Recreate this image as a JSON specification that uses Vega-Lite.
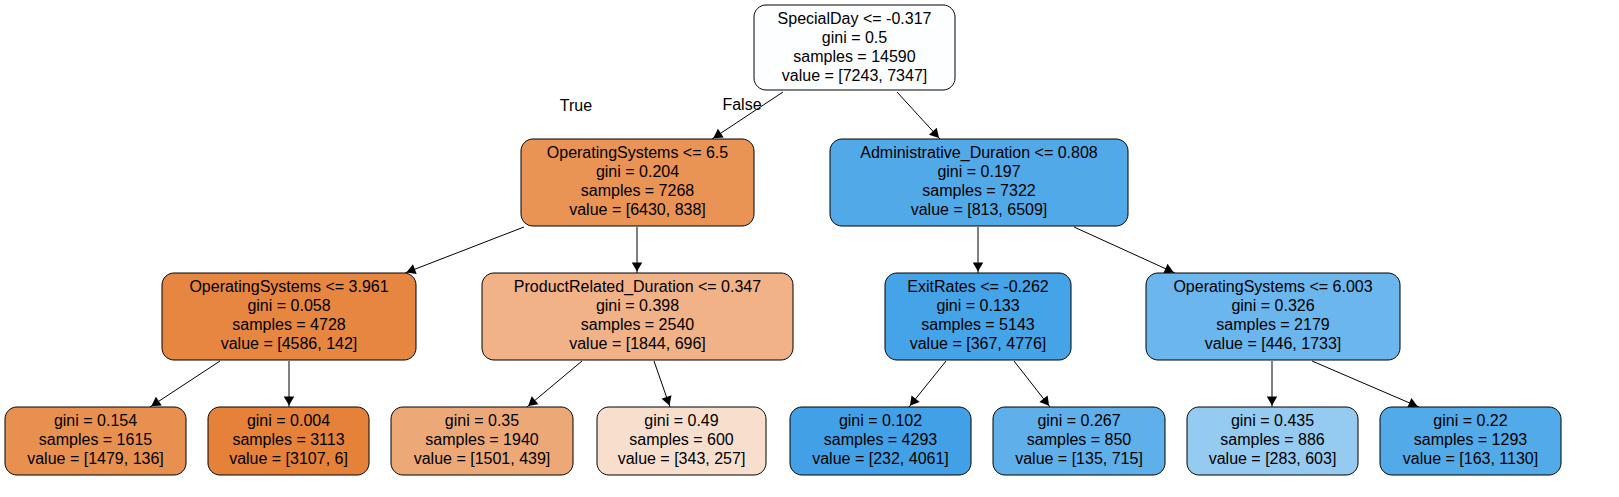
{
  "$schema": "https://vega.github.io/schema/vega-lite/v6.json",
  "autosize": {"type": "none"},
  "width": 1619,
  "height": 497,
  "padding": 0,
  "background": "white",
  "config": {"view": {"stroke": null}},
  "datasets": {
    "nodes": [
      {"x0": 754, "x1": 955, "y0": 5, "y1": 90, "fill": "#fdfeff", "label": "SpecialDay <= -0.317\ngini = 0.5\nsamples = 14590\nvalue = [7243, 7347]"},
      {"x0": 521, "x1": 754, "y0": 139, "y1": 226, "fill": "#e99355", "label": "OperatingSystems <= 6.5\ngini = 0.204\nsamples = 7268\nvalue = [6430, 838]"},
      {"x0": 830, "x1": 1128, "y0": 139, "y1": 226, "fill": "#52a9e8", "label": "Administrative_Duration <= 0.808\ngini = 0.197\nsamples = 7322\nvalue = [813, 6509]"},
      {"x0": 162, "x1": 416, "y0": 273, "y1": 360, "fill": "#e68641", "label": "OperatingSystems <= 3.961\ngini = 0.058\nsamples = 4728\nvalue = [4586, 142]"},
      {"x0": 482, "x1": 793, "y0": 273, "y1": 360, "fill": "#f0b286", "label": "ProductRelated_Duration <= 0.347\ngini = 0.398\nsamples = 2540\nvalue = [1844, 696]"},
      {"x0": 885, "x1": 1071, "y0": 273, "y1": 360, "fill": "#45a3e7", "label": "ExitRates <= -0.262\ngini = 0.133\nsamples = 5143\nvalue = [367, 4776]"},
      {"x0": 1146, "x1": 1400, "y0": 273, "y1": 360, "fill": "#6bb6ec", "label": "OperatingSystems <= 6.003\ngini = 0.326\nsamples = 2179\nvalue = [446, 1733]"},
      {"x0": 5, "x1": 186, "y0": 407, "y1": 475, "fill": "#e89050", "label": "gini = 0.154\nsamples = 1615\nvalue = [1479, 136]"},
      {"x0": 208, "x1": 369, "y0": 407, "y1": 475, "fill": "#e58139", "label": "gini = 0.004\nsamples = 3113\nvalue = [3107, 6]"},
      {"x0": 391, "x1": 573, "y0": 407, "y1": 475, "fill": "#eda877", "label": "gini = 0.35\nsamples = 1940\nvalue = [1501, 439]"},
      {"x0": 597, "x1": 766, "y0": 407, "y1": 475, "fill": "#f8dfcd", "label": "gini = 0.49\nsamples = 600\nvalue = [343, 257]"},
      {"x0": 790, "x1": 971, "y0": 407, "y1": 475, "fill": "#42a1e6", "label": "gini = 0.102\nsamples = 4293\nvalue = [232, 4061]"},
      {"x0": 993, "x1": 1165, "y0": 407, "y1": 475, "fill": "#5eafea", "label": "gini = 0.267\nsamples = 850\nvalue = [135, 715]"},
      {"x0": 1187, "x1": 1358, "y0": 407, "y1": 475, "fill": "#95caf1", "label": "gini = 0.435\nsamples = 886\nvalue = [283, 603]"},
      {"x0": 1380, "x1": 1561, "y0": 407, "y1": 475, "fill": "#52aae8", "label": "gini = 0.22\nsamples = 1293\nvalue = [163, 1130]"}
    ],
    "edges": [
      {"xa": 783, "ya": 92, "xb": 712, "yb": 139},
      {"xa": 897, "ya": 92, "xb": 940, "yb": 139},
      {"xa": 524, "ya": 227, "xb": 405, "yb": 273},
      {"xa": 637, "ya": 227, "xb": 637, "yb": 273},
      {"xa": 978, "ya": 227, "xb": 978, "yb": 273},
      {"xa": 1074, "ya": 227, "xb": 1175, "yb": 273},
      {"xa": 220, "ya": 361, "xb": 150, "yb": 407},
      {"xa": 289, "ya": 361, "xb": 289, "yb": 407},
      {"xa": 582, "ya": 361, "xb": 527, "yb": 407},
      {"xa": 654, "ya": 361, "xb": 670, "yb": 407},
      {"xa": 946, "ya": 361, "xb": 909, "yb": 407},
      {"xa": 1014, "ya": 361, "xb": 1050, "yb": 407},
      {"xa": 1272, "ya": 361, "xb": 1272, "yb": 407},
      {"xa": 1312, "ya": 361, "xb": 1419, "yb": 407}
    ],
    "branch": [
      {"x": 576, "y": 106, "t": "True"},
      {"x": 742, "y": 105, "t": "False"}
    ]
  },
  "layer": [
    {
      "data": {"name": "edges"},
      "mark": {"type": "rule", "color": "black", "strokeWidth": 1},
      "encoding": {
        "x": {"field": "xa", "type": "quantitative", "scale": {"domain": [0, 1619], "nice": false, "zero": false}, "axis": null},
        "y": {"field": "ya", "type": "quantitative", "scale": {"domain": [0, 497], "nice": false, "zero": false, "reverse": true}, "axis": null},
        "x2": {"field": "xb"},
        "y2": {"field": "yb"}
      }
    },
    {
      "data": {"name": "edges"},
      "transform": [
        {"calculate": "sqrt(pow(datum.xb - datum.xa, 2) + pow(datum.yb - datum.ya, 2))", "as": "len"},
        {"calculate": "datum.xb - 6 * (datum.xb - datum.xa) / datum.len", "as": "cx"},
        {"calculate": "datum.yb - 6 * (datum.yb - datum.ya) / datum.len", "as": "cy"},
        {"calculate": "180 - atan2(datum.xb - datum.xa, datum.yb - datum.ya) * 180 / PI", "as": "rot"}
      ],
      "mark": {"type": "point", "shape": "triangle-up", "filled": true, "color": "black", "size": 110, "opacity": 1},
      "encoding": {
        "x": {"field": "cx", "type": "quantitative"},
        "y": {"field": "cy", "type": "quantitative"},
        "angle": {"field": "rot", "type": "quantitative", "scale": null}
      }
    },
    {
      "data": {"name": "nodes"},
      "mark": {"type": "rect", "stroke": "black", "strokeWidth": 1, "cornerRadius": 12},
      "encoding": {
        "x": {"field": "x0", "type": "quantitative"},
        "x2": {"field": "x1"},
        "y": {"field": "y0", "type": "quantitative"},
        "y2": {"field": "y1"},
        "fill": {"field": "fill", "type": "nominal", "scale": null}
      }
    },
    {
      "data": {"name": "nodes"},
      "transform": [
        {"calculate": "(datum.x0 + datum.x1) / 2", "as": "cx"},
        {"calculate": "datum.y0 + 14", "as": "cy"}
      ],
      "mark": {"type": "text", "font": "Liberation Sans", "fontSize": 16, "lineBreak": "\n", "lineHeight": 19, "baseline": "middle", "align": "center", "color": "black"},
      "encoding": {
        "x": {"field": "cx", "type": "quantitative"},
        "y": {"field": "cy", "type": "quantitative"},
        "text": {"field": "label"}
      }
    },
    {
      "data": {"name": "branch"},
      "mark": {"type": "text", "font": "Liberation Sans", "fontSize": 16, "baseline": "middle", "align": "center", "color": "black"},
      "encoding": {
        "x": {"field": "x", "type": "quantitative"},
        "y": {"field": "y", "type": "quantitative"},
        "text": {"field": "t"}
      }
    }
  ]
}
